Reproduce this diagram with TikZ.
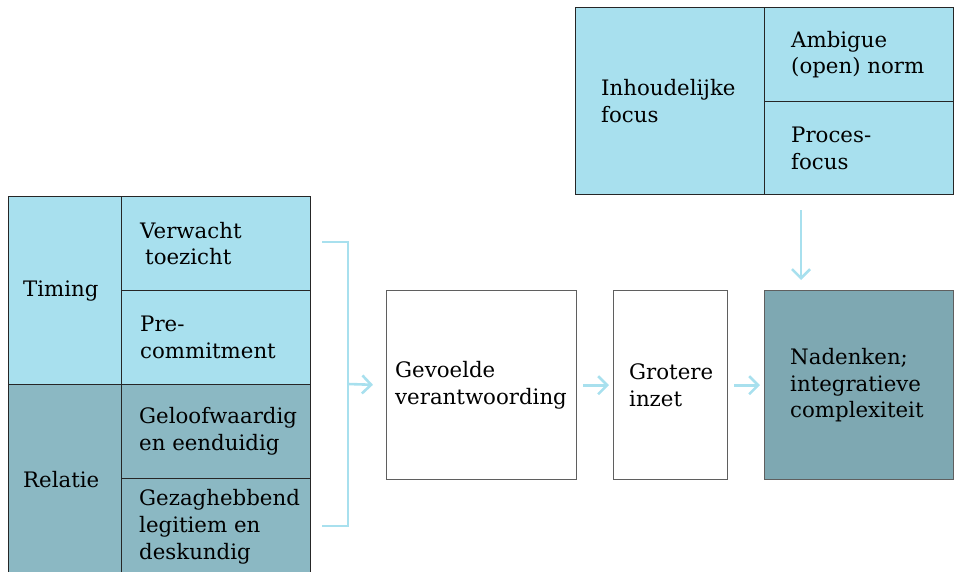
\documentclass[tikz,border=0pt]{standalone}
\usepackage{fontspec}
\setmainfont{DejaVu Serif}
\usetikzlibrary{arrows.meta, positioning, calc}
\definecolor{focuscyan}{RGB}{168, 224, 238}
\definecolor{relteal}{RGB}{139, 184, 195}
\definecolor{deepteal}{RGB}{126, 168, 178}
\definecolor{boxgray}{RGB}{95, 95, 95}
\tikzset{
  cell/.style={draw=black!85, line width=1.3pt, anchor=north west, inner sep=0pt},
  stepcell/.style={draw=boxgray, line width=1.4pt, anchor=north west, inner sep=0pt},
  txt/.style={font=\fontsize{21.3}{26.8}\selectfont, align=left, inner sep=0pt},
  flow/.style={draw=focuscyan, line width=2.6pt},
  flowarrow/.style={flow, -{Straight Barb[length=9pt, width=18pt]}}
}

\begin{document}
\begin{tikzpicture}[x=1pt, y=-1pt]
  \clip (0,0) rectangle (956,571);

  % linkerblok: timing en relatie
  \node[cell, fill=focuscyan, minimum width=113pt, minimum height=188pt] (timing) at (8,196) {};
  \node[cell, fill=focuscyan, minimum width=189pt, minimum height=94pt] (verwacht) at (121,196) {};
  \node[cell, fill=focuscyan, minimum width=189pt, minimum height=94pt] (precommit) at (121,290) {};
  \node[cell, fill=relteal, minimum width=113pt, minimum height=190pt] (relatie) at (8,384) {};
  \node[cell, fill=relteal, minimum width=189pt, minimum height=94pt] (geloof) at (121,384) {};
  \node[cell, fill=relteal, minimum width=189pt, minimum height=96pt] (gezag) at (121,478) {};

  \node[txt, right=15pt of timing.west] (timingtxt) {Timing};
  \node[txt, right=19pt of verwacht.west] (verwachttxt) {Verwacht\\\hspace{5pt}toezicht};
  \node[txt, right=19pt of precommit.west] (precommittxt) {Pre-\\commitment};
  \node[txt, right=15pt of relatie.west] (relatietxt) {Relatie};
  \node[txt, right=18pt of geloof.west] (glooftxt) {Geloofwaardig\\en eenduidig};
  \node[txt, right=18pt of gezag.west] (gezagtxt) {Gezaghebbend\\legitiem en\\deskundig};

  % bovenblok: inhoudelijke focus
  \node[cell, fill=focuscyan, minimum width=189pt, minimum height=187pt] (inhoud) at (575,7) {};
  \node[cell, fill=focuscyan, minimum width=189pt, minimum height=94pt] (ambigue) at (764,7) {};
  \node[cell, fill=focuscyan, minimum width=189pt, minimum height=93pt] (proces) at (764,101) {};

  \node[txt, right=26pt of inhoud.west] (inhoudtxt) {Inhoudelijke\\focus};
  \node[txt, right=27pt of ambigue.west] (ambiguetxt) {Ambigue\\(open) norm};
  \node[txt, right=27pt of proces.west] (procestxt) {Proces-\\focus};

  % keten
  \node[stepcell, minimum width=190pt, minimum height=189pt] (gevoeld) at (386,290) {};
  \node[stepcell, minimum width=114pt, minimum height=189pt] (inzet) at (613,290) {};
  \node[stepcell, fill=deepteal, minimum width=189pt, minimum height=189pt] (nadenken) at (764,290) {};

  \node[txt, right=9pt of gevoeld.west] (gevoeldtxt) {Gevoelde\\verantwoording};
  \node[txt, right=16pt of inzet.west] (inzettxt) {Grotere\\inzet};
  \node[txt, right=26pt of nadenken.west] (nadenkentxt) {Nadenken;\\integratieve\\complexiteit};

  % haak en pijlen
  \coordinate (btop) at (322,242);
  \coordinate (bbot) at (322,526);
  \coordinate (bmid) at (348,384);
  \draw[flow] (btop) -| (bmid) |- (bbot);
  \draw[flowarrow, shorten >=13pt] (bmid) -- (gevoeld.west);
  \draw[flowarrow, shorten <=6pt, shorten >=4pt] (gevoeld.east) -- (inzet.west);
  \draw[flowarrow, shorten <=6pt, shorten >=4pt] (inzet.east) -- (nadenken.west);
  \draw[flowarrow] ([xshift=37pt, yshift=-15pt]proces.south west) -- ([xshift=37pt, yshift=10pt]nadenken.north west);
\end{tikzpicture}
\end{document}
